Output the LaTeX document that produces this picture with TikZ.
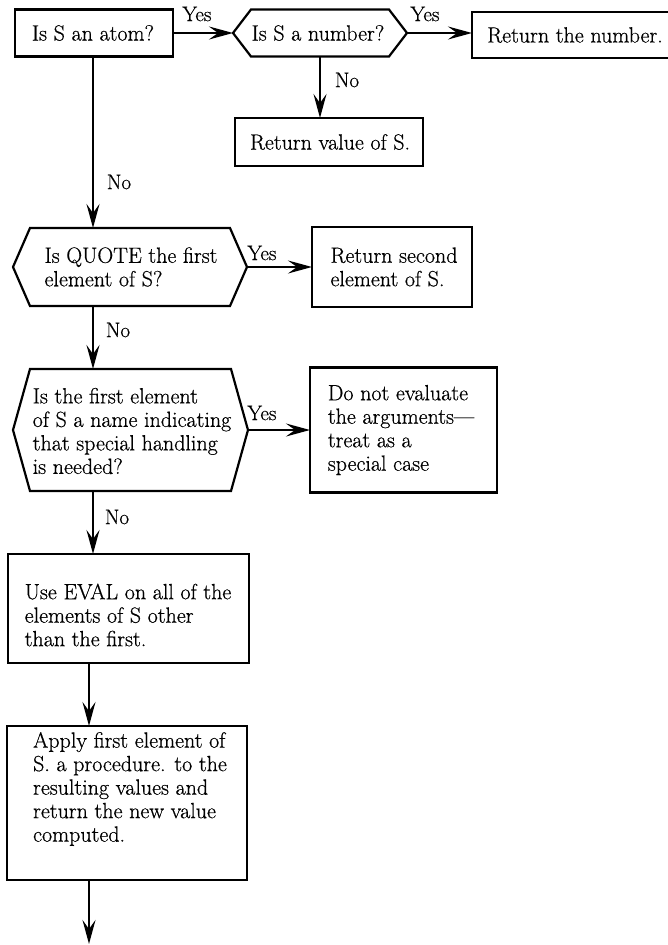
\documentclass[tikz,border=0pt]{standalone}
\usepackage{fontspec}
\setmainfont{Latin Modern Roman}[FakeBold=0.6]
\usetikzlibrary{arrows.meta}
\tikzset{
  frame/.style={draw, line width=2.2pt, inner sep=0pt, outer sep=0pt},
  ghost/.style={inner sep=0pt, outer sep=0pt},
  txt/.style={align=left, inner sep=0pt, font=\fontsize{22}{23.5}\selectfont},
  lbl/.style={inner sep=0pt, font=\fontsize{21}{22}\selectfont},
  conn/.style={line width=2pt, -{Stealth[length=24pt, width=13pt, inset=9pt]}},
  plain/.style={line width=2pt}
}
\newcommand{\hexframe}[2]{%
  \draw[line width=2.2pt, line join=miter] (#1.west) -- ([xshift=#2]#1.north west) -- ([xshift=-#2]#1.north east) -- (#1.east) -- ([xshift=-#2]#1.south east) -- ([xshift=#2]#1.south west) -- cycle;}
\begin{document}
\begin{tikzpicture}[x=1pt, y=-1pt]
\useasboundingbox (0,0) rectangle (667,945);
% frames
\node[frame, minimum width=158pt, minimum height=47pt] (b1) at (94,33) {};
\node[ghost, minimum width=174pt, minimum height=47pt] (h2) at (320,33) {};
\hexframe{h2}{18}
\node[frame, minimum width=206pt, minimum height=46pt] (b3) at (575,35) {};
\node[frame, minimum width=188pt, minimum height=48pt] (b4) at (329,142) {};
\node[ghost, minimum width=234pt, minimum height=78pt] (h5) at (130,267) {};
\hexframe{h5}{17}
\node[frame, minimum width=160pt, minimum height=80pt] (b6) at (392,267) {};
\node[ghost, minimum width=235pt, minimum height=122pt] (h7) at (130.5,430) {};
\hexframe{h7}{17}
\node[frame, minimum width=187pt, minimum height=125pt] (b8) at (403.5,430) {};
\node[frame, minimum width=241pt, minimum height=109pt] (b9) at (128.5,608.5) {};
\node[frame, minimum width=240pt, minimum height=154pt] (b10) at (127,803) {};
% texts
\node[txt] (t1) at (93,33) {Is S an atom?};
\node[txt] (t2) at (318,33) {Is S a number?};
\node[txt, anchor=west] (t3) at (487,35) {Return the number.};
\node[txt] (t4) at (330,142) {Return value of S.};
\node[txt] (t5) at (131,267) {Is QUOTE the first\\element of S?};
\node[txt] (t6) at (394,267) {Return second\\element of S.};
\node[txt] (t7) at (132,431) {Is the first element\\of S a name indicating\\that special handling\\is needed?};
\node[txt] (t8) at (401,430) {Do not evaluate\\the arguments---\\treat as a\\special case};
\node[txt] (t9) at (128,615) {Use EVAL on all of the\\elements of S other\\than the first.};
\node[txt] (t10) at (130,789) {Apply first element of\\S. a procedure. to the\\resulting values and\\return the new value\\computed.};
% spine coordinates
\coordinate (sp) at (93,0);
\coordinate (sp2) at (89,0);
\coordinate (endpt) at (89,944);
% connectors
\draw[conn] (b1.east) -- (h2.west);
\draw[conn] (h2.east) -- (h2.east -| b3.west);
\draw[conn] (h2.south) -- (h2.south |- b4.north);
\draw[conn] (b1.south -| sp) -- (h5.north -| sp);
\draw[conn] (h5.east) -- (h5.east -| b6.west);
\draw[conn] (h5.south -| sp) -- (h7.north -| sp);
\draw[conn] (h7.east) -- (h7.east -| b8.west);
\draw[conn] (h7.south -| sp) -- (b9.north -| sp);
\draw[conn] (b9.south -| sp2) -- (b10.north -| sp2);
\draw[conn] (b10.south -| sp2) -- (endpt);
% labels
\node[lbl] (y1) at (197,14) {Yes};
\node[lbl] (y2) at (425,14) {Yes};
\node[lbl] (n1) at (119,182) {No};
\node[lbl] (n2) at (347,80) {No};
\node[lbl] (y3) at (262,253) {Yes};
\node[lbl] (n3) at (118,330) {No};
\node[lbl] (y4) at (262,413) {Yes};
\node[lbl] (n4) at (117,517) {No};
\end{tikzpicture}
\end{document}
